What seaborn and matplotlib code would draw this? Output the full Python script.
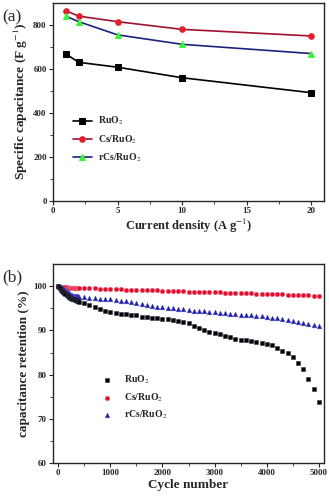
import numpy as np
import pandas as pd
import matplotlib
matplotlib.use("Agg")
import matplotlib.pyplot as plt
import seaborn as sns

# panel (a): specific capacitance vs current density
current = [1, 2, 5, 10, 20]
cap_ruo2 = [668, 630, 608, 560, 492]
cap_cs = [865, 840, 815, 780, 750]
cap_rcs = [840, 815, 755, 712, 670]

# panel (b): cycling stability
cycles = [0, 20, 40, 60, 80, 100, 120, 140, 160, 180, 200, 220, 240, 260, 280,
          300, 320, 340, 360, 380, 400] + list(range(500, 5001, 100))
ret_ruo2 = [100.0, 99.8, 99.5, 99.2, 98.9, 98.6, 98.4, 98.2, 98.0, 97.8, 97.6,
            97.4, 97.3, 97.2, 97.1, 97.0, 96.9, 96.8, 96.7, 96.6, 96.5,
            96.1, 95.7, 95.25, 94.8, 94.5, 94.2, 94.0, 93.8, 93.75, 93.6,
            93.4, 93.1, 93.0, 92.85, 92.7, 92.6, 92.5, 92.4, 92.2, 91.9,
            91.6, 91.1, 90.6, 90.1, 89.75, 89.4, 89.1, 88.7, 88.4, 88.1,
            87.9, 87.8, 87.7, 87.4, 87.2, 87.0, 86.7, 86.0, 85.3, 84.8,
            84.0, 82.7, 81.2, 79.0, 76.7, 73.9]
ret_cs = [100.0, 99.9, 99.9, 99.9, 99.8, 99.8, 99.8, 99.8, 99.8, 99.7, 99.7,
          99.7, 99.7, 99.7, 99.7, 99.7, 99.7, 99.7, 99.6, 99.6, 99.6,
          99.6, 99.55, 99.5, 99.45, 99.4, 99.35, 99.3, 99.3, 99.25, 99.2,
          99.2, 99.15, 99.1, 99.1, 99.05, 99.0, 98.95, 98.95, 98.9, 98.85,
          98.8, 98.8, 98.75, 98.7, 98.65, 98.6, 98.6, 98.55, 98.5, 98.5,
          98.45, 98.4, 98.4, 98.35, 98.3, 98.25, 98.2, 98.2, 98.15, 98.1,
          98.05, 98.0, 98.0, 97.95, 97.9, 97.8]
ret_rcs = [100.0, 100.0, 99.9, 99.8, 99.7, 99.5, 99.3, 99.1, 98.9, 98.7, 98.5,
           98.3, 98.1, 98.0, 97.9, 97.8, 97.8, 97.7, 97.7, 97.7, 97.6,
           97.5, 97.4, 97.3, 97.2, 97.15, 97.1, 96.9, 96.7, 96.6, 96.4,
           96.2, 96.0, 95.8, 95.6, 95.4, 95.2, 95.1, 95.0, 94.9, 94.8,
           94.6, 94.5, 94.4, 94.3, 94.2, 94.1, 94.0, 93.9, 93.8, 93.7,
           93.6, 93.5, 93.4, 93.3, 93.2, 93.1, 92.9, 92.7, 92.5, 92.3,
           92.1, 91.9, 91.7, 91.5, 91.2, 91.0]

sns.set_style("ticks")
plt.rcParams["font.family"] = ["Liberation Serif", "DejaVu Serif"]
plt.rcParams["mathtext.fontset"] = "stix"

fig = plt.figure(figsize=(3.29, 4.96), dpi=100)
ax1 = fig.add_axes([0.161, 0.595, 0.824, 0.399])
ax2 = fig.add_axes([0.161, 0.0665, 0.824, 0.401])

dfa = pd.DataFrame({"x": current * 3,
                    "y": cap_ruo2 + cap_cs + cap_rcs,
                    "s": ["RuO$_2$"] * 5 + ["Cs/RuO$_2$"] * 5 + ["rCs/RuO$_2$"] * 5})
line_cols = {"RuO$_2$": "black", "Cs/RuO$_2$": "#a01030", "rCs/RuO$_2$": "#1a237e"}
mk_cols = {"RuO$_2$": "black", "Cs/RuO$_2$": "#e0202a", "rCs/RuO$_2$": "#3cf23c"}
mk = {"RuO$_2$": "s", "Cs/RuO$_2$": "o", "rCs/RuO$_2$": "^"}
for name in ["RuO$_2$", "Cs/RuO$_2$", "rCs/RuO$_2$"]:
    sub = dfa[dfa["s"] == name]
    sns.lineplot(data=sub, x="x", y="y", ax=ax1, color=line_cols[name], lw=1.2,
                 marker=mk[name], markersize=4, markerfacecolor=mk_cols[name],
                 markeredgecolor=mk_cols[name], label=name)

ax1.set_xlim(0, 21)
ax1.set_ylim(0, 900)
ax1.set_xticks([0, 5, 10, 15, 20])
ax1.set_xticks([2.5, 7.5, 12.5, 17.5], minor=True)
ax1.set_yticks([0, 200, 400, 600, 800])
ax1.set_yticks([100, 300, 500, 700], minor=True)
ax1.set_xlabel("Current density (A g$^{-1}$)", fontsize=9, fontweight="bold", labelpad=1)
ax1.set_ylabel("Specific capacitance (F g$^{-1}$)", fontsize=9.5, fontweight="bold", labelpad=2)
ax1.legend(loc="center left", bbox_to_anchor=(0.04, 0.31), frameon=False,
           prop={"weight": "bold", "size": 7}, handlelength=2.0,
           labelspacing=0.6, handletextpad=0.6)
fig.text(0.008, 0.957, "(a)", fontsize=12.5, family=["Liberation Serif", "DejaVu Serif"])

dfb = pd.DataFrame({"x": cycles * 3,
                    "y": ret_ruo2 + ret_cs + ret_rcs,
                    "s": ["RuO$_2$"] * len(cycles) + ["Cs/RuO$_2$"] * len(cycles)
                    + ["rCs/RuO$_2$"] * len(cycles)})
pal_b = {"RuO$_2$": "black", "Cs/RuO$_2$": "#e0102a", "rCs/RuO$_2$": "#1a1aa8"}
edge_b = {"RuO$_2$": "#333344", "Cs/RuO$_2$": "#f07090", "rCs/RuO$_2$": "#5050c0"}
for name in ["RuO$_2$", "Cs/RuO$_2$", "rCs/RuO$_2$"]:
    sub = dfb[dfb["s"] == name]
    sns.scatterplot(data=sub, x="x", y="y", ax=ax2, color=pal_b[name],
                    marker=mk[name], s=11, edgecolor=edge_b[name], linewidth=0.4,
                    label=name, zorder=3 if name == "RuO$_2$" else 2)

ax2.set_xlim(-100, 5100)
ax2.set_ylim(60, 105)
ax2.set_xticks([0, 1000, 2000, 3000, 4000, 5000])
ax2.set_xticks([500, 1500, 2500, 3500, 4500], minor=True)
ax2.set_yticks([60, 70, 80, 90, 100])
ax2.set_yticks([65, 75, 85, 95], minor=True)
ax2.set_xlabel("Cycle number", fontsize=9.5, fontweight="bold", labelpad=1)
ax2.set_ylabel("capacitance retention (%)", fontsize=9.5, fontweight="bold", labelpad=2)
ax2.legend(loc="center left", bbox_to_anchor=(0.13, 0.33), frameon=False,
           prop={"weight": "bold", "size": 7}, handletextpad=0.8, labelspacing=0.55)
fig.text(0.008, 0.432, "(b)", fontsize=12.5, family=["Liberation Serif", "DejaVu Serif"])

for ax in (ax1, ax2):
    ax.tick_params(which="major", direction="out", length=3, width=0.8, labelsize=6.5, pad=1.5)
    ax.tick_params(which="minor", direction="out", length=2, width=0.6)
    for lab in ax.get_xticklabels() + ax.get_yticklabels():
        lab.set_fontweight("bold")
    for sp in ax.spines.values():
        sp.set_visible(True)
        sp.set_linewidth(1.0)

fig.savefig("out.png", dpi=100)
